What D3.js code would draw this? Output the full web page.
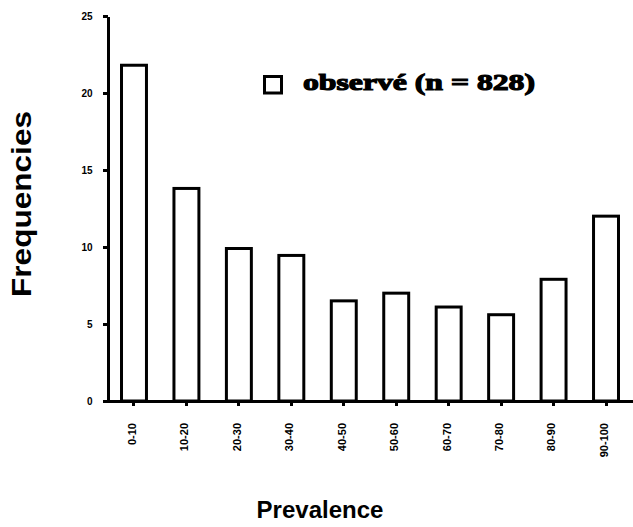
<!DOCTYPE html>
<html>
<head>
<meta charset="utf-8">
<script src="https://cdn.jsdelivr.net/npm/d3@7"></script>
<style>
body{margin:0;background:#fff}
svg{display:block}
.axis path,.axis line{stroke:#000;stroke-width:3;shape-rendering:crispEdges}
.axis text{fill:#000;font-family:"Liberation Sans",Arial,sans-serif;font-weight:bold}
</style>
</head>
<body>
<svg id="chart" width="633" height="527"></svg>
<script>
// prevalence classes (%)
var categories = ["0-10","10-20","20-30","30-40","40-50","50-60","60-70","70-80","80-90","90-100"]
var observed = [21.9,13.9,10.0,9.55,6.6,7.1,6.2,5.7,8.0,12.1]
var yTicks = [0,5,10,15,20,25]
var legendLabel = "observé (n = 828)"

var svg = d3.select("#chart")

var xScale = d3.scaleBand().domain(categories).range([107,633])
    .paddingInner(0.467).paddingOuter(0.248)
var yScale = d3.scaleLinear().domain([0,25]).range([401,16])

// y axis
var yAxis = d3.axisLeft(yScale).tickValues(yTicks).tickSize(5).tickSizeOuter(0)
svg.append("g").attr("class","y axis")
    .attr("transform","translate(107.5,0)")
    .call(yAxis)
    .call(function(g){
        g.selectAll("text").attr("font-size",10).attr("x",-15)
        g.selectAll(".tick line").attr("stroke-width",2.5)
    })

// x axis
var xAxis = d3.axisBottom(xScale).tickSize(5).tickSizeOuter(0)
svg.append("g").attr("class","x axis")
    .attr("transform","translate(0,401)")
    .call(xAxis)
    .call(function(g){
        g.select(".domain").attr("d","M103,0H633")
        g.selectAll(".tick line").attr("stroke-width",2.5)
        g.selectAll("text")
            .attr("font-size",11)
            .attr("transform","rotate(-90)")
            .attr("text-anchor","end")
            .attr("x",-22).attr("y",-2).attr("dy","0.35em")
    })

// bars
svg.selectAll("rect.bar")
    .data(observed)
    .enter()
    .append("rect")
    .attr("class","bar")
    .attr("x",function(d,i){return xScale(categories[i])+1.5})
    .attr("y",function(d){return yScale(d)+1.5})
    .attr("width",xScale.bandwidth()-3)
    .attr("height",function(d){return yScale(0)-yScale(d)-1.5})
    .attr("fill","#fff")
    .attr("stroke","#000")
    .attr("stroke-width",3)

// legend
svg.append("rect")
    .attr("x",264.5).attr("y",76.5).attr("width",17).attr("height",16.5)
    .attr("fill","#fff").attr("stroke","#000").attr("stroke-width",3)
svg.append("text").text(legendLabel)
    .attr("x",303).attr("y",90)
    .attr("font-family","'Liberation Serif','Times New Roman',serif")
    .attr("font-weight","bold").attr("font-size",24)
    .attr("stroke","#000").attr("stroke-width",1.2)
    .attr("textLength",232).attr("lengthAdjust","spacingAndGlyphs")

// axis titles
svg.append("text").text("Frequencies")
    .attr("transform","translate(31,204) rotate(-90)")
    .attr("text-anchor","middle")
    .attr("font-family","'Liberation Sans',Arial,sans-serif")
    .attr("font-weight","bold").attr("font-size",27)
    .attr("textLength",186).attr("lengthAdjust","spacingAndGlyphs")
svg.append("text").text("Prevalence")
    .attr("x",320).attr("y",518)
    .attr("text-anchor","middle")
    .attr("font-family","'Liberation Sans',Arial,sans-serif")
    .attr("font-weight","bold").attr("font-size",24)
</script>
</body>
</html>
